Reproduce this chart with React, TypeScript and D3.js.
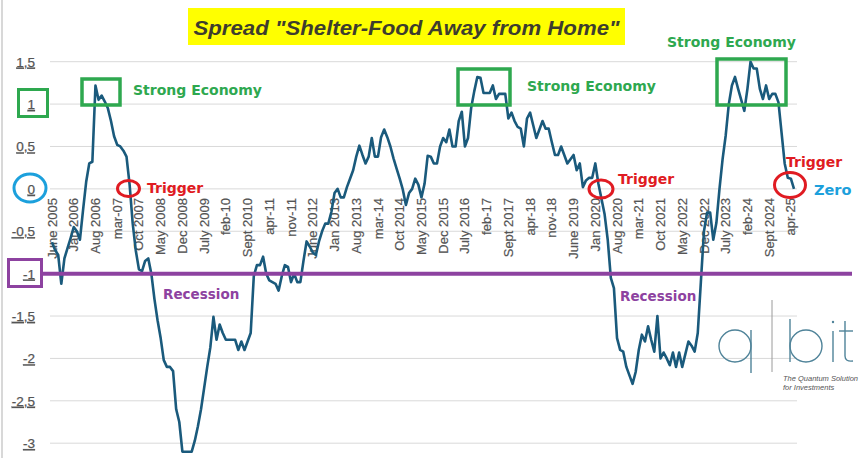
import React from "react";
import * as d3 from "d3";

// Monthly spread values, June 2005 .. May 2025
const values: number[] = [
  -0.63, -0.72, -0.78, -1.12, -0.82, -0.7, -0.58, -0.45, -0.5, -0.6, -0.25, 0.08,
  0.3, 0.32, 1.22, 1.05, 1.1, 1.03, 0.95, 0.8, 0.62, 0.52, 0.5, 0.45,
  0.38, 0.05, -0.41, -0.73, -0.95, -0.97, -0.85, -0.82, -1.0, -1.3, -1.55, -1.76,
  -2.02, -2.1, -2.1, -2.15, -2.6, -2.75, -3.1, -3.1, -3.1, -3.1, -2.97, -2.8,
  -2.6, -2.35, -2.1, -1.87, -1.51, -1.78, -1.6, -1.7, -1.78, -1.78, -1.78, -1.78,
  -1.9, -1.8, -1.9, -1.8, -1.7, -1.03, -0.9, -0.9, -0.8, -1.0, -1.08, -1.1,
  -1.12, -1.2, -1.03, -0.9, -0.92, -1.1, -1.0, -1.1, -1.1, -0.85, -0.62, -0.68,
  -0.75, -0.78, -0.62, -0.5, -0.41, -0.41, -0.27, -0.05, 0.0, -0.1, -0.1, 0.02,
  0.12, 0.22, 0.38, 0.51, 0.4, 0.3, 0.38, 0.6, 0.38, 0.38, 0.61, 0.7,
  0.61, 0.5, 0.36, 0.24, 0.12, -0.01, -0.19, -0.05, 0.0, 0.12, 0.05, -0.1,
  0.06, 0.39, 0.38, 0.3, 0.3, 0.5, 0.6, 0.55, 0.7, 0.5, 0.5, 0.8,
  0.91, 0.5, 0.6, 0.95, 1.15, 1.32, 1.31, 1.13, 1.13, 1.13, 1.22, 1.06,
  1.12, 1.12, 1.12, 0.83, 0.9, 0.8, 0.73, 0.71, 0.5, 0.83, 0.9, 0.75,
  0.6, 0.7, 0.8, 0.71, 0.71, 0.55, 0.4, 0.4, 0.5, 0.4, 0.3, 0.35,
  0.4, 0.22, 0.3, 0.02, 0.1, 0.13, 0.13, 0.3, 0.06, -0.12, -0.3, -0.6,
  -1.05, -1.17, -1.76, -1.9, -1.92, -2.1, -2.2, -2.3, -2.16, -1.9, -1.72, -1.8,
  -1.62, -1.78, -1.92, -1.5, -2.0, -1.93, -2.0, -2.08, -1.93, -2.1, -1.93, -2.1,
  -1.95, -1.8, -1.85, -1.92, -1.7, -1.1, -0.5, -0.28, -0.28, -0.6, -0.4, 0.0,
  0.35, 0.63, 1.0, 1.22, 1.32, 1.18, 1.05, 0.92, 1.18, 1.5, 1.42, 1.42,
  1.18, 1.06, 1.22, 1.06, 1.12, 1.12, 1.02, 0.66, 0.3, 0.13, 0.12, 0.0,
];

// category labels shown every 7 months
const tickLabels: string[] = [
  "June 2005", "Jan 2006", "Aug 2006", "mar-07", "Oct 2007", "May 2008", "Dec 2008",
  "July 2009", "feb-10", "Sept 2010", "apr-11", "nov-11", "June 2012", "Jan 2013",
  "Aug 2013", "mar-14", "Oct 2014", "May 2015", "Dec 2015", "July 2016", "feb-17",
  "Sept 2017", "apr-18", "nov-18", "June 2019", "Jan 2020", "Aug 2020", "mar-21",
  "Oct 2021", "May 2022", "Dec 2022", "July 2023", "feb-24", "Sept 2024", "apr-25",
];
const tickStep = 7;

const yTicks: number[] = [1.5, 1, 0.5, 0, -0.5, -1, -1.5, -2, -2.5, -3];

const title = 'Spread "Shelter-Food Away from Home"';

const LINE = "#1a5a7c";
const PURPLE = "#8d42a0";
const GREEN = "#2ea84f";
const RED = "#e01b22";
const BLUE = "#1ca0dc";
const LOGO = "#4f8399";

export default function App() {
  const W = 866, H = 458;
  const x = d3.scaleLinear().domain([0, values.length - 1]).range([52, 794]);
  const y = d3.scaleLinear().domain([-3, 1.5]).range([443.2, 61.7]);
  const line = d3.line<number>().x((_, i) => x(i)).y((d) => y(d)).curve(d3.curveLinear);
  const fmt = (v: number) => String(v).replace(".", ",");
  const boldFont = "'DejaVu Sans', Verdana, sans-serif";
  const axisFont = "'Liberation Sans', Arial, sans-serif";

  return (
    <svg width={W} height={H} style={{ position: "absolute", left: 0, top: 0, background: "#fff" }}>
      <rect x={0} y={0} width={W} height={H} fill="#fff" />
      <line x1={2} x2={2} y1={0} y2={H} stroke="#d8d8d8" strokeWidth={2} />

      {/* title */}
      <rect x={188} y={8} width={437} height={37} fill="#ffff00" />
      <text x={406.5} y={34.5} textAnchor="middle" fontFamily={axisFont} fontWeight="bold" fontStyle="italic"
        fontSize={21} fill="#3d3d2e" textLength={426} lengthAdjust="spacingAndGlyphs">{title}</text>

      {/* grid */}
      {yTicks.map((t) => (
        <line key={"g" + t} x1={50} x2={797} y1={y(t)} y2={y(t)} stroke="#d9d9d9" strokeWidth={1} />
      ))}
      {/* y tick labels */}
      {yTicks.map((t) => (
        <text key={"yl" + t} x={35} y={y(t)} dy="0.36em" textAnchor="end" fontFamily={axisFont}
          fontSize={13.5} fill="#555" stroke="#555" strokeWidth={0.25} textDecoration="underline">{fmt(t)}</text>
      ))}

      {/* x tick labels */}
      {tickLabels.map((lab, i) => {
        const xi = x(i * tickStep);
        return (
          <text key={"xl" + i} transform={`translate(${xi},198) rotate(-90)`} dy="0.35em" textAnchor="end"
            fontFamily={axisFont} fontSize={13} fill="#555" stroke="#555" strokeWidth={0.2}>{lab}</text>
        );
      })}

      {/* series */}
      <path d={line(values) || ""} fill="none" stroke={LINE} strokeWidth={2.6} strokeLinejoin="round" />

      {/* recession line */}
      <line x1={40} x2={852} y1={y(-1)} y2={y(-1)} stroke={PURPLE} strokeWidth={4} />
      <rect x={8.5} y={259.5} width={33} height={27} fill="none" stroke={PURPLE} strokeWidth={3} />
      <text x={163} y={299} fontFamily={boldFont} fontWeight="bold" fontSize={13.5} fill={PURPLE}>Recession</text>
      <text x={620} y={301} fontFamily={boldFont} fontWeight="bold" fontSize={13.5} fill={PURPLE}>Recession</text>

      {/* strong economy */}
      <rect x={18.5} y={89.5} width={29} height={27} fill="none" stroke={GREEN} strokeWidth={3} />
      <rect x={82} y={79} width={38} height={26} fill="none" stroke={GREEN} strokeWidth={3.5} />
      <text x={133} y={95} fontFamily={boldFont} fontWeight="bold" fontSize={14} fill={GREEN}>Strong Economy</text>
      <rect x={458} y={69} width={52} height={36} fill="none" stroke={GREEN} strokeWidth={3.5} />
      <text x={527} y={91} fontFamily={boldFont} fontWeight="bold" fontSize={14} fill={GREEN}>Strong Economy</text>
      <rect x={717} y={59} width={69} height={46} fill="none" stroke={GREEN} strokeWidth={3.5} />
      <text x={667} y={47} fontFamily={boldFont} fontWeight="bold" fontSize={14} fill={GREEN}>Strong Economy</text>

      {/* zero */}
      <ellipse cx={30} cy={188} rx={16} ry={14} fill="none" stroke={BLUE} strokeWidth={3} />
      <text x={814} y={195} fontFamily={boldFont} fontWeight="bold" fontSize={14.5} fill={BLUE}>Zero</text>

      {/* triggers */}
      <ellipse cx={128.5} cy={188.5} rx={11} ry={8} fill="none" stroke={RED} strokeWidth={3} />
      <text x={147} y={193} fontFamily={boldFont} fontWeight="bold" fontSize={14} fill={RED}>Trigger</text>
      <ellipse cx={601} cy={189} rx={12} ry={9} fill="none" stroke={RED} strokeWidth={3} />
      <text x={618} y={184} fontFamily={boldFont} fontWeight="bold" fontSize={14} fill={RED}>Trigger</text>
      <ellipse cx={790} cy={185} rx={15.5} ry={12.5} fill="none" stroke={RED} strokeWidth={3} />
      <text x={786} y={167} fontFamily={boldFont} fontWeight="bold" fontSize={14} fill={RED}>Trigger</text>

      {/* logo */}
      <g fill="none" stroke={LOGO} strokeWidth={1.4}>
        <circle cx={735} cy={346} r={16} />
        <line x1={751} x2={751} y1={330} y2={373} />
        <circle cx={806} cy={346} r={16} />
        <line x1={790} x2={790} y1={319} y2={362} />
        <line x1={833} x2={833} y1={331} y2={362} />
        <path d="M845,321 L845,356 Q845,362 853,361" />
        <line x1={839} x2={853} y1={331} y2={331} />
      </g>
      <circle cx={833} cy={322} r={1.2} fill={LOGO} />
      <line x1={772} x2={772} y1={300} y2={372} stroke="#9a9a9a" strokeWidth={1} />
      <text x={783} y={381} fontFamily={axisFont} fontStyle="italic" fontSize={7.5} fill="#555">The Quantum Solution</text>
      <text x={783} y={390} fontFamily={axisFont} fontStyle="italic" fontSize={7.5} fill="#555">for Investments</text>
    </svg>
  );
}
